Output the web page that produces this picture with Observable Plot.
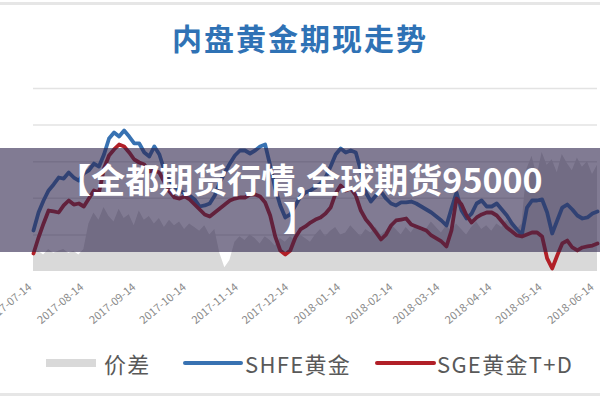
<!DOCTYPE html>
<html><head><meta charset="utf-8">
<script src="https://cdn.jsdelivr.net/npm/d3@7"></script>
<script src="https://cdn.jsdelivr.net/npm/@observablehq/plot@0.6"></script>
<style>
body{margin:0;background:#fff;}
#wrap{position:relative;width:600px;height:400px;overflow:hidden;font-family:"Noto Sans CJK SC","Noto Sans",sans-serif;background:#fff;}
#title{position:absolute;top:16px;left:0;width:600px;text-align:center;font-size:30px;font-weight:bold;color:#2f72b5;line-height:42px;letter-spacing:2px;}
#chart{position:absolute;top:0;left:0;}
#band{position:absolute;left:0;top:148px;width:600px;height:104px;background:rgba(45,35,75,0.6);}
#bandtext{position:absolute;left:0;top:160px;width:600px;text-align:center;color:#fff;font-weight:bold;font-size:34px;line-height:38px;}
.sw{position:absolute;}
.lt{position:absolute;font-size:22px;color:#595959;line-height:24px;top:351px;letter-spacing:1.3px;}
.edge{position:absolute;left:0;width:600px;height:3px;background:#e6e6e6;}
</style></head>
<body><div id="wrap">
<div class="edge" style="top:2px"></div>
<div id="title">内盘黄金期现走势</div>
<div id="chart"></div>
<div id="band"></div>
<div id="bandtext">【全都期货行情,全球期货95000<br>】</div>
<div class="sw" style="left:46px;top:359px;width:50px;height:8px;background:#d9d9d9"></div>
<div class="lt" style="left:104px">价差</div>
<div class="sw" style="left:183px;top:361px;width:60px;height:4px;border-radius:2px;background:#3872b2"></div>
<div class="lt" style="left:245px">SHFE黄金</div>
<div class="sw" style="left:375px;top:361px;width:61px;height:4px;border-radius:2px;background:#b11f27"></div>
<div class="lt" style="left:437px">SGE黄金T+D</div>
<div class="edge" style="top:393px"></div>
</div>
<script>
const dates = ["2017-07-13","2017-07-16","2017-07-19","2017-07-22","2017-07-25","2017-07-28","2017-07-31","2017-08-03","2017-08-06","2017-08-09",
"2017-08-12","2017-08-15","2017-08-18","2017-08-21","2017-08-24","2017-08-27","2017-08-30","2017-09-02","2017-09-05","2017-09-08",
"2017-09-11","2017-09-14","2017-09-17","2017-09-20","2017-09-23","2017-09-26","2017-09-29","2017-10-02","2017-10-05","2017-10-08",
"2017-10-11","2017-10-14","2017-10-17","2017-10-20","2017-10-23","2017-10-26","2017-10-29","2017-11-01","2017-11-04","2017-11-07",
"2017-11-10","2017-11-13","2017-11-16","2017-11-19","2017-11-22","2017-11-25","2017-11-28","2017-12-01","2017-12-04","2017-12-07",
"2017-12-10","2017-12-13","2017-12-16","2017-12-19","2017-12-22","2017-12-25","2017-12-28","2017-12-31","2018-01-03","2018-01-06",
"2018-01-09","2018-01-12","2018-01-15","2018-01-18","2018-01-21","2018-01-24","2018-01-27","2018-01-30","2018-02-02","2018-02-05",
"2018-02-08","2018-02-11","2018-02-14","2018-02-17","2018-02-20","2018-02-23","2018-02-26","2018-03-01","2018-03-04","2018-03-07",
"2018-03-10","2018-03-13","2018-03-16","2018-03-19","2018-03-22","2018-03-25","2018-03-28","2018-03-31","2018-04-03","2018-04-06",
"2018-04-09","2018-04-12","2018-04-15","2018-04-18","2018-04-21","2018-04-24","2018-04-27","2018-04-30","2018-05-03","2018-05-06",
"2018-05-09","2018-05-12","2018-05-15","2018-05-18","2018-05-21","2018-05-24","2018-05-27","2018-05-30","2018-06-02","2018-06-05",
"2018-06-08","2018-06-11","2018-06-14"];

const shfe = [270.60,273.06,274.70,276.07,276.89,277.84,277.70,278.52,277.84,277.43,
278.39,278.80,279.75,279.34,280.98,283.17,283.99,283.44,284.26,283.44,
282.49,282.49,281.26,280.71,282.08,280.98,278.80,277.43,276.61,276.07,
275.66,275.38,274.84,273.88,274.02,274.29,275.38,277.16,278.52,279.75,
280.85,281.53,281.53,281.12,281.53,282.08,282.35,279.48,276.34,274.02,
272.38,272.79,274.02,275.25,275.79,276.07,276.48,277.02,277.84,279.34,
280.98,281.80,281.26,281.53,281.26,278.80,275.79,274.56,275.38,275.93,
274.97,274.29,274.02,274.43,274.43,274.56,274.29,273.88,273.47,273.06,
272.51,271.97,271.28,273.61,275.79,273.33,272.24,272.92,274.29,274.70,
273.88,273.88,274.29,273.47,272.65,271.56,270.74,270.05,273.74,274.70,
274.70,274.84,273.06,270.19,271.97,273.74,274.15,273.47,272.65,272.24,
272.38,272.92,273.20];

const sge = [267.46,269.64,271.56,273.33,273.20,273.06,274.02,274.70,274.15,274.29,
273.88,274.97,276.07,275.79,279.07,280.85,281.67,282.35,282.08,281.26,
280.30,279.89,279.62,278.66,278.80,278.52,277.16,275.93,275.11,274.97,
275.25,274.84,274.15,273.47,272.79,272.51,273.06,273.61,274.15,274.70,
274.97,275.11,275.11,275.52,275.52,275.25,274.43,272.65,269.78,267.87,
267.32,267.87,269.64,270.74,271.15,271.69,272.10,272.38,272.92,273.74,
275.66,276.75,276.07,276.34,275.38,273.33,272.10,271.28,270.33,269.37,
270.05,271.28,271.97,272.10,272.24,271.42,271.15,270.87,270.60,269.92,
269.51,269.10,268.42,270.60,274.97,274.15,272.65,271.69,272.38,272.79,
273.06,273.06,272.65,271.83,271.01,270.46,269.92,269.78,270.05,270.33,
270.33,269.78,266.78,265.41,267.19,268.83,269.23,268.28,267.87,268.28,
268.42,268.55,268.83];

const spread = [1.0,1.1,0.9,1.2,1.0,1.1,1.2,1.0,1.1,0.9,1.2,
2.6,3.2,2.8,3.5,3.0,2.7,3.4,2.9,3.1,2.5,3.3,2.8,3.0,2.6,2.9,2.4,2.8,2.5,2.7,2.3,2.6,2.4,2.2,2.5,2.0,2.3,
1.0,0.2,0.6,
1.6,1.9,1.7,2.0,1.8,1.5,1.9,1.7,1.4,1.8,1.6,1.9,1.7,2.0,1.8,1.6,
2.0,2.3,1.9,2.2,2.4,2.0,2.1,2.5,2.2,1.9,2.3,2.1,2.4,2.0,2.2,2.6,2.3,2.0,2.4,2.1,
2.5,2.2,2.3,2.7,2.4,2.1,2.5,2.2,2.6,2.3,2.0,2.4,2.7,2.3,2.5,2.2,2.6,2.4,2.8,2.5,2.3,2.6,
5.6,6.3,5.2,6.5,5.8,6.1,5.4,6.4,5.9,5.5,6.2,5.7,6.0,5.3,5.8];

const tickDates = ["2017-07-14","2017-08-14","2017-09-14","2017-10-14","2017-11-14","2017-12-14",
"2018-01-14","2018-02-14","2018-03-14","2018-04-14","2018-05-14","2018-06-14"];
const gridValues = [270, 275, 280, 285, 290];
const priceDomain = [265, 290];
const spreadDomain = [0, 10];

const parse = d3.utcParse("%Y-%m-%d");
const data = dates.map((d, i) => ({date: parse(d), shfe: shfe[i], sge: sge[i], spread: spread[i]}));
// secondary axis for 价差 mapped onto the price axis
const spreadToPrice = d3.scaleLinear(spreadDomain, priceDomain);

const chart = Plot.plot({
  width: 600, height: 345,
  marginTop: 88, marginBottom: 74, marginLeft: 33, marginRight: 3,
  style: {fontFamily: '"Noto Sans CJK SC","Noto Sans",sans-serif', background: "transparent"},
  x: {type: "utc", domain: [parse(dates[0]), parse(dates[dates.length - 1])]},
  y: {domain: priceDomain, axis: null},
  marks: [
    Plot.ruleY(gridValues, {stroke: "#e3e3e3", strokeWidth: 1.5}),
    Plot.areaY(data, {x: "date", y1: priceDomain[0], y2: d => spreadToPrice(d.spread), fill: "#d9d9d9"}),
    Plot.lineY(data, {x: "date", y: "shfe", stroke: "#3872b2", strokeWidth: 3.8, strokeLinejoin: "round"}),
    Plot.lineY(data, {x: "date", y: "sge", stroke: "#b11f27", strokeWidth: 3.8, strokeLinejoin: "round"}),
    Plot.axisX({ticks: tickDates.map(parse), tickFormat: d3.utcFormat("%Y-%m-%d"), tickRotate: -40,
      tickSize: 0, tickPadding: 14, dx: -5, fontSize: 11, fill: "#8a8a8a", label: null})
  ]
});
document.getElementById("chart").appendChild(chart);
</script>
</body></html>
